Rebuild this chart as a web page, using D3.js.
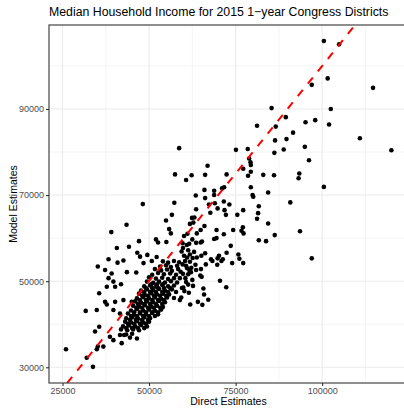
<!DOCTYPE html>
<html>
<head>
<meta charset="utf-8">
<script src="https://cdn.jsdelivr.net/npm/d3@7"></script>
<style>
body { margin: 0; background: #fff; }
text { font-family: "Liberation Sans", Arial, sans-serif; }
</style>
</head>
<body>
<svg id="chart" width="404" height="408"></svg>
<script>
// direct (survey) estimate vs model estimate, one pair per district
const directEst = [100500,104900,101600,97000,114700,102500,89500,95200,98000,102000,91600,89700,110900,88900,95000,120000,96200,93400,93200,100500,90800,93600,97000,
  85400,81200,86600,86400,86200,78500,75100,78900,79300,79400,77200,79400,66900,62300,66200,72400,78600,83000,86100,58700,57500,60700,66000,68800,71100,71700,79400,84400,
  68800,63500,79900,80100,66200,71600,73200,69000,67300,81700,63600,69800,71800,77200,81500,67700,72200,75500,62400,63100,81200,84400,62800,61800,66000,77100,64900,69500,
  74300,76700,63800,61100,77300,71600,86300,60100,62500,65300,63600,68800,69500,81700,83800,73600,59700,60900,57300,48200,56600,54900,43500,39100,55800,56300,47100,52000,
  52600,55000,40700,44200,72400,75800,76100,77200,74000,70200,69800,70900,71300,69700,67900,68300,66400,66200,65100,63800,62600,63400,65000,61000,62200,61700,64800,65200,
  60500,62500,70500,72300,61300,59900,60200,61500,65700,65900,59300,67100,64100,65400,61900,64900,61600,59400,61800,61000,60400,59700,60700,62100,61300,59100,38300,40900,
  42600,35200,37300,39200,43600,46300,47400,46600,49500,50800,52200,48400,38300,39700,37800,40200,41900,35600,37300,37800,40200,42600,45000,31700,34900,39700,41600,35600,
  34400,38700,39700,42100,42800,41600,26000,35200,34900,36800,32000,33800,
  54000,55500,57200,58700,53200,54900,56300,58100,51700,53500,55200,56600,58400,50900,52600,54300,56100,57800,50000,52000,53800,55500,57200,
  49400,51200,52900,54600,56300,58100,48600,50300,52000,53800,55500,57200,47700,49400,51200,52900,54600,56600,47100,48800,50600,52300,54000,55800,
  46500,48300,50000,51700,53500,55200,46000,47700,49400,51200,52900,54600,45400,47100,48800,50600,52300,54000,44800,46500,48300,50000,51700,53500,
  43900,45700,47400,49100,50900,52600,43400,45100,46800,48600,50300,43100,44800,46500,48300,50000,42500,44200,46000,47700,49400,
  41900,43700,45400,47100,43400,45100,44500,46500,
  50600,52300,54000,49100,50900,52600,54300,56100,48600,50300,52000,53800,55500,48000,49700,51400,53200,54900,47400,49100,50900,52600,54300,
  46800,48600,50300,52000,53800,46300,48000,49700,51400,53200,45700,47400,49100,50900,52600,44800,46500,48300,50000,51700,
  44500,46200,48000,49700,43900,45700,47400,49100,43400,45100,46800,48600,
  59800,61300,63000,60100,61800,63600,59800,62700,60700,58900,59500,57800,58900,57200]
const modelEst = [105800,105000,97100,95600,94900,90000,88100,86900,87400,86400,84500,83000,83200,80600,81200,80400,78100,75000,73900,71900,68300,61600,55300,
  90200,86100,85900,82700,79800,80700,80500,78500,77600,77000,76100,75400,76800,74600,74700,74800,74500,74700,74600,80900,74800,73500,71200,71000,71600,71800,71800,70600,
  70000,69900,70000,69600,69300,68500,67800,68100,67800,67400,66700,66900,66500,66500,65800,65900,65400,65400,64700,64800,64500,63400,63600,63300,62800,62500,61900,61900,
  61900,61700,61100,61000,61100,60900,60700,60500,59700,59200,58900,59800,60000,59500,59300,58200,58800,58400,68200,67900,65400,64100,63100,61400,62100,61100,59300,59700,
  59000,59100,57700,58000,56600,56200,55200,54200,54200,55900,55300,54700,55100,53800,55100,54700,53900,56500,55900,55500,55400,53800,52800,53000,53100,52400,51300,51000,
  50700,50300,50100,48600,49200,48500,47700,47300,48300,46900,46200,45700,45200,44500,44600,59000,58700,56900,56200,55500,54700,53900,53600,52100,51600,52200,55100,54300,
  54800,53400,52600,51800,52100,52000,55700,56600,56100,54700,55600,54200,50700,49900,48700,48700,49300,47200,45200,44600,45200,45600,45200,43100,43300,43300,42500,39400,
  38300,37100,36300,35600,37500,37500,34200,34800,34200,34800,32200,30100,
  54600,54300,54700,54400,53400,53700,53300,53600,52800,52500,52700,52400,52800,51500,51900,51600,51800,51500,50900,50600,50800,50500,50700,
  49900,49600,49900,49700,50000,49700,48800,49000,48700,49100,48800,49000,47800,48100,47900,48200,47800,48100,47100,46800,47200,46900,47100,46900,
  46000,46300,46000,46200,45900,46200,45300,45000,45300,45100,45400,45100,44300,44100,44400,44100,44300,44000,43200,43500,43200,43400,43100,43400,
  42500,42200,42500,42300,42600,42300,41400,41600,41300,41600,41400,40600,40400,40700,40400,40600,39500,39700,39500,39800,39500,
  38800,38600,38800,38600,37600,37800,36900,36700,
  49300,49300,49300,48400,48400,48400,48400,48400,47500,47500,47500,47500,47500,46600,46600,46600,46600,46600,45600,45600,45600,45600,45600,
  44700,44700,44700,44700,44700,43800,43800,43800,43800,43800,42800,42800,42800,42800,42800,41900,41900,41900,41900,41900,
  41000,41000,41000,41000,40100,40100,40100,40100,39100,39100,39100,39100,
  57700,57200,56800,55900,54500,52600,51700,48900,49800,50700,48400,47500,45600,46100]

const xTicks = [25000, 50000, 75000, 100000]
const yTicks = [30000, 50000, 70000, 90000]
const xMinor = [37500, 62500, 87500, 112500]
const yMinor = [40000, 60000, 80000, 100000]

const svg = d3.select("#chart")
const pLeft = 49, pRight = 408, pTop = 25, pBottom = 383

const x = d3.scaleLinear().domain([21100, 124800]).range([pLeft, pRight])
const y = d3.scaleLinear().domain([26350, 109500]).range([pBottom, pTop])

svg.append("defs").append("clipPath").attr("id", "panel")
  .append("rect")
  .attr("x", pLeft).attr("y", pTop)
  .attr("width", pRight - pLeft).attr("height", pBottom - pTop)

// grid
let grid = svg.append("g")
grid.selectAll("line.xmin").data(xMinor).enter().append("line")
  .attr("x1", d => x(d)).attr("x2", d => x(d))
  .attr("y1", pTop).attr("y2", pBottom)
  .attr("stroke", "#EBEBEB").attr("stroke-width", 0.55)
grid.selectAll("line.ymin").data(yMinor).enter().append("line")
  .attr("y1", d => y(d)).attr("y2", d => y(d))
  .attr("x1", pLeft).attr("x2", pRight)
  .attr("stroke", "#EBEBEB").attr("stroke-width", 0.55)
grid.selectAll("line.xmaj").data(xTicks).enter().append("line")
  .attr("x1", d => x(d)).attr("x2", d => x(d))
  .attr("y1", pTop).attr("y2", pBottom)
  .attr("stroke", "#EBEBEB").attr("stroke-width", 1.1)
grid.selectAll("line.ymaj").data(yTicks).enter().append("line")
  .attr("y1", d => y(d)).attr("y2", d => y(d))
  .attr("x1", pLeft).attr("x2", pRight)
  .attr("stroke", "#EBEBEB").attr("stroke-width", 1.1)

// points
svg.append("g")
  .selectAll("circle")
  .data(directEst)
  .enter().append("circle")
  .attr("cx", d => x(d))
  .attr("cy", (d, i) => y(modelEst[i]))
  .attr("r", 2.3)
  .attr("fill", "#000")

// y = x reference line
svg.append("line")
  .attr("clip-path", "url(#panel)")
  .attr("x1", x(26350)).attr("y1", y(26350))
  .attr("x2", x(124800)).attr("y2", y(124800))
  .attr("stroke", "#FF0000")
  .attr("stroke-width", 2)
  .attr("stroke-dasharray", "8,8")

// panel border
svg.append("rect")
  .attr("x", pLeft).attr("y", pTop)
  .attr("width", pRight - pLeft).attr("height", pBottom - pTop)
  .attr("fill", "none").attr("stroke", "#333333").attr("stroke-width", 1.1)

// axes
let xAxis = svg.append("g")
  .attr("transform", `translate(0,${pBottom})`)
  .call(d3.axisBottom(x).tickValues(xTicks).tickSize(3).tickPadding(2).tickFormat(d3.format("d")))
let yAxis = svg.append("g")
  .attr("transform", `translate(${pLeft},0)`)
  .call(d3.axisLeft(y).tickValues(yTicks).tickSize(3).tickPadding(2).tickFormat(d3.format("d")))
svg.selectAll(".domain").remove()
svg.selectAll(".tick line").attr("stroke", "#333333").attr("stroke-width", 1.1)
svg.selectAll(".tick text")
  .attr("fill", "#4D4D4D")
  .style("font-size", "9px")
  .style("font-family", "'Liberation Sans', Arial, sans-serif")

// labels
svg.append("text")
  .attr("x", pLeft).attr("y", 16)
  .style("font-size", "12.3px")
  .attr("fill", "#000")
  .text("Median Household Income for 2015 1\u2212year Congress Districts")
svg.append("text")
  .attr("x", (pLeft + pRight) / 2).attr("y", 405)
  .attr("text-anchor", "middle")
  .style("font-size", "10.5px")
  .text("Direct Estimates")
svg.append("text")
  .attr("transform", `translate(16.5,${(pTop + pBottom) / 2}) rotate(-90)`)
  .attr("text-anchor", "middle")
  .style("font-size", "10.5px")
  .text("Model Estimates")
</script>
</body>
</html>
